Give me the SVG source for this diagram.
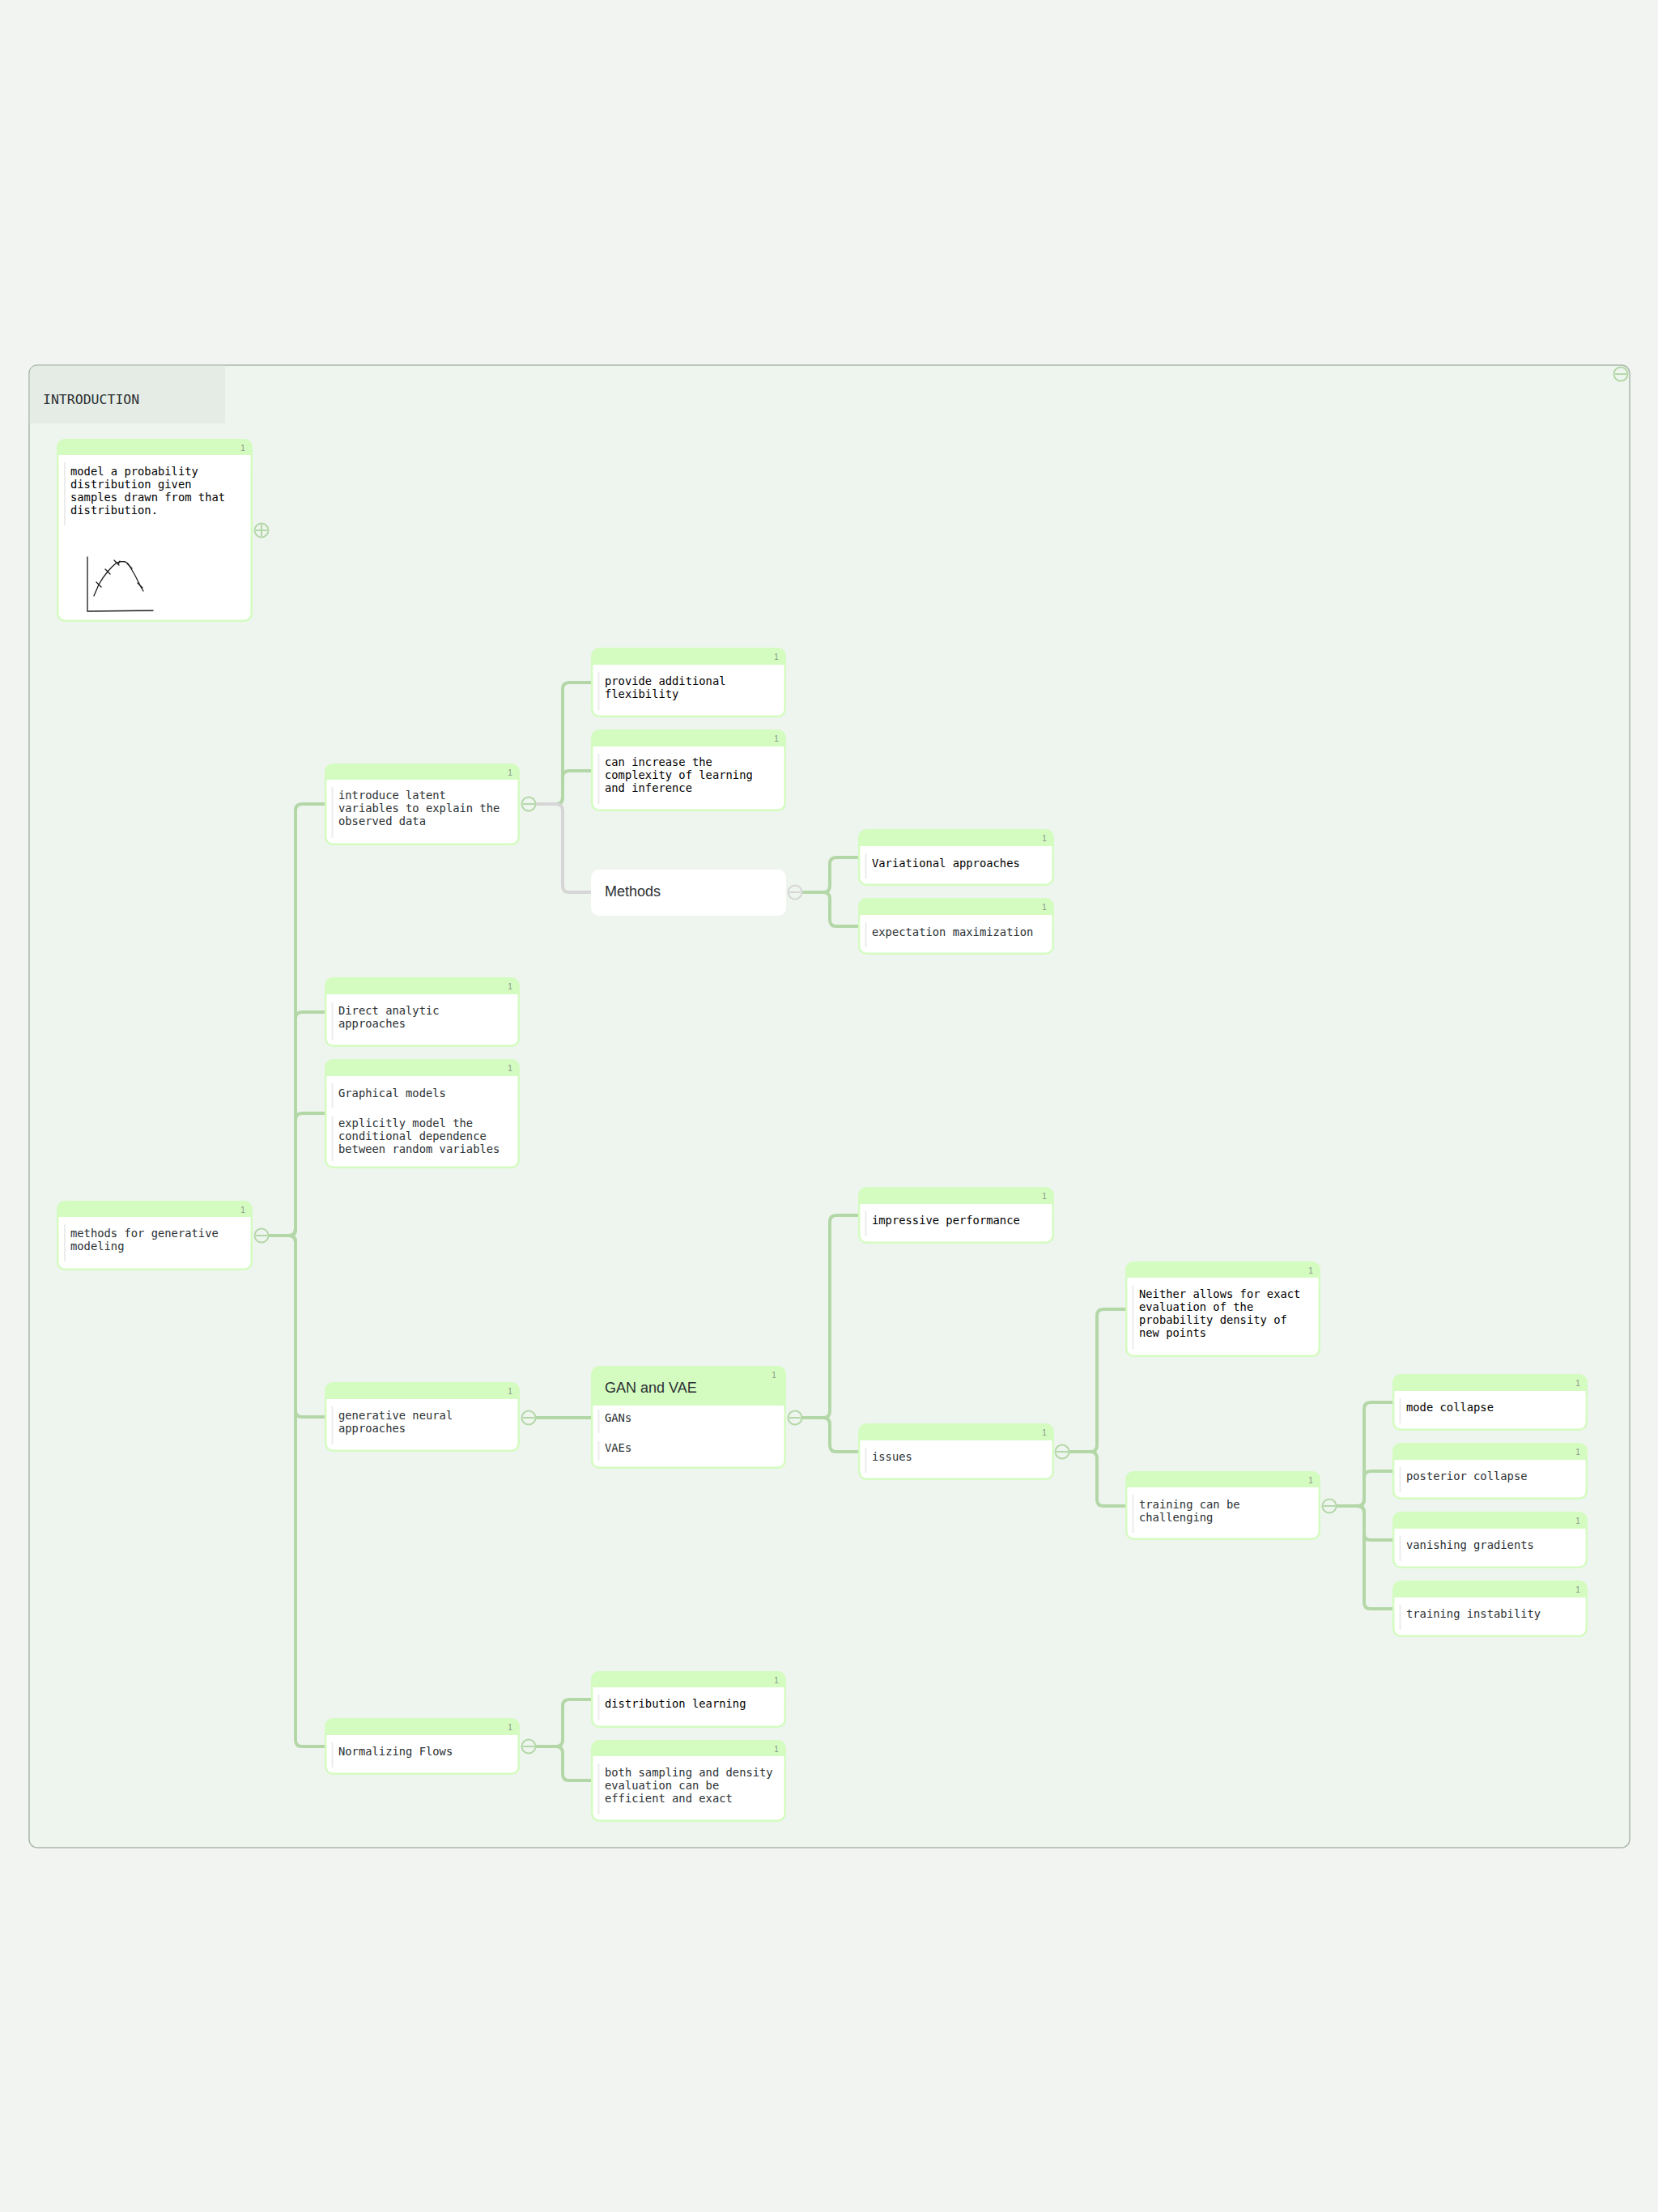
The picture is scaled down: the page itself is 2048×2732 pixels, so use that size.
<svg xmlns="http://www.w3.org/2000/svg" width="2048" height="2732" viewBox="0 0 2048 2732">
<style>
.nb{fill:#d4fcc1;}
.bd{fill:#ffffff;}
.bar{stroke:#ececec;stroke-width:2;}
.t{font-family:"DejaVu Sans Mono","Liberation Mono",monospace;font-size:13.8px;fill:#2b3033;}
.k{fill:#000000;}
.s{font-family:"Liberation Sans",Arial,sans-serif;font-size:18px;fill:#2b3033;}
.n1{font-family:"Liberation Sans",Arial,sans-serif;font-size:10px;fill:#8a968a;text-anchor:middle;}
.c{fill:none;stroke:#b4d7a8;stroke-width:4;stroke-linejoin:round;}
.cg{fill:none;stroke:#d6d6d6;stroke-width:4;}
.tg{fill:#eef5ee;stroke:#b4d7a8;stroke-width:2;}
.tgg{fill:#eef5ee;stroke:#d6d6d6;stroke-width:2;}
.tl{stroke:#b4d7a8;stroke-width:2;}
.tlg{stroke:#d6d6d6;stroke-width:2;}
</style>
<rect x="0" y="0" width="2048" height="2732" fill="#f2f4f2"/>
<g id="frame">
<rect x="36" y="451" width="1977" height="1831" rx="10" fill="#eef5ee" stroke="#a9b8a9" stroke-width="1.5"/>
<path d="M36.8,523 V461 Q36.8,451.8 46,451.8 H278 V523 Z" fill="#e5ece5"/>
<text x="53" y="499" font-family="DejaVu Sans Mono,Liberation Mono,monospace" font-size="16.5" fill="#2b3033">INTRODUCTION</text>
<circle cx="2002" cy="462" r="8.5" class="tg"/><line x1="1995" y1="462" x2="2009" y2="462" class="tl"/>
</g>
<g id="connectors">
<path class="c" d="M331,1526 H357 Q365,1526 365,1518 V1001 Q365,993 373,993 H401"/>
<path class="c" d="M331,1526 H357 Q365,1526 365,1518 V1258 Q365,1250 373,1250 H401"/>
<path class="c" d="M331,1526 H357 Q365,1526 365,1518 V1383 Q365,1375 373,1375 H401"/>
<path class="c" d="M331,1526 H357 Q365,1526 365,1534 V1742 Q365,1750 373,1750 H401"/>
<path class="c" d="M331,1526 H357 Q365,1526 365,1534 V2149 Q365,2157 373,2157 H401"/>
<path class="c" d="M661,993 H687 Q695,993 695,985 V851 Q695,843 703,843 H730"/>
<path class="c" d="M661,993 H687 Q695,993 695,985 V960 Q695,952 703,952 H730"/>
<path class="cg" d="M661,993 H687 Q695,993 695,1001 V1094 Q695,1102 703,1102 H730"/>
<path class="c" d="M990,1102 H1017 Q1025,1102 1025,1094 V1067 Q1025,1059 1033,1059 H1060"/>
<path class="c" d="M990,1102 H1017 Q1025,1102 1025,1110 V1136 Q1025,1144 1033,1144 H1060"/>
<path class="c" d="M661,1751 H730"/>
<path class="c" d="M990,1751 H1017 Q1025,1751 1025,1743 V1509 Q1025,1501 1033,1501 H1060"/>
<path class="c" d="M990,1751 H1017 Q1025,1751 1025,1759 V1785 Q1025,1793 1033,1793 H1060"/>
<path class="c" d="M1320,1793 H1347 Q1355,1793 1355,1785 V1625 Q1355,1617 1363,1617 H1390"/>
<path class="c" d="M1320,1793 H1347 Q1355,1793 1355,1801 V1852 Q1355,1860 1363,1860 H1390"/>
<path class="c" d="M1650,1860 H1677 Q1685,1860 1685,1852 V1740 Q1685,1732 1693,1732 H1720"/>
<path class="c" d="M1650,1860 H1677 Q1685,1860 1685,1852 V1825 Q1685,1817 1693,1817 H1720"/>
<path class="c" d="M1650,1860 H1677 Q1685,1860 1685,1868 V1894 Q1685,1902 1693,1902 H1720"/>
<path class="c" d="M1650,1860 H1677 Q1685,1860 1685,1868 V1979 Q1685,1987 1693,1987 H1720"/>
<path class="c" d="M661,2157 H687 Q695,2157 695,2149 V2107 Q695,2099 703,2099 H730"/>
<path class="c" d="M661,2157 H687 Q695,2157 695,2165 V2191 Q695,2199 703,2199 H730"/>
</g>
<g id="n-model">
<rect class="nb" x="70" y="542" width="242" height="226" rx="10"/>
<rect class="bd" x="72.5" y="562" width="237" height="203.5" rx="8"/><rect class="bd" x="72.5" y="562" width="237" height="12"/>
<text class="n1" x="300" y="557">1</text>
<line class="bar" x1="80" y1="571" x2="80" y2="649"/>
<text class="t k" x="87" y="587">model a probability</text>
<text class="t k" x="87" y="603">distribution given</text>
<text class="t k" x="87" y="619">samples drawn from that</text>
<text class="t k" x="87" y="635">distribution.</text>
<g fill="none" stroke="#1a1a1a" stroke-width="1.3" stroke-linecap="round">
<path d="M108,688 V755 L189,754"/>
<path d="M116,736 Q119,729 122,722 Q127,713 133,706 Q138,700 144,695 Q150,693 155,694 Q158,695 160,699 Q167,710 173,723 L177,730"/>
<path d="M119,719 L125,725 M130,703 L136,709 M141,692 L147,698 M157,696 L163,702 M170,720 L176,726 M148,693 L146,697"/>
</g>
<circle cx="323" cy="655" r="8.5" class="tg"/><line x1="316" y1="655" x2="330" y2="655" class="tl"/><line x1="323" y1="648" x2="323" y2="662" class="tl"/>
</g>
<g id="n-methods-gen">
<rect class="nb" x="70" y="1483" width="242" height="86" rx="10"/>
<rect class="bd" x="72.5" y="1503" width="237" height="63.5" rx="8"/><rect class="bd" x="72.5" y="1503" width="237" height="12"/>
<text class="n1" x="300" y="1498">1</text>
<line class="bar" x1="80" y1="1512" x2="80" y2="1558"/>
<text class="t" x="87" y="1528">methods for generative</text>
<text class="t" x="87" y="1544">modeling</text>
<circle cx="323" cy="1526" r="8.5" class="tg"/><line x1="316" y1="1526" x2="330" y2="1526" class="tl"/>
</g>
<g id="n-introduce">
<rect class="nb" x="401" y="943" width="241" height="101" rx="10"/>
<rect class="bd" x="403.5" y="963" width="236" height="78.5" rx="8"/><rect class="bd" x="403.5" y="963" width="236" height="12"/>
<text class="n1" x="630" y="958">1</text>
<line class="bar" x1="410.5" y1="972" x2="410.5" y2="1035"/>
<text class="t" x="418" y="987">introduce latent</text>
<text class="t" x="418" y="1003">variables to explain the</text>
<text class="t" x="418" y="1019">observed data</text>
<circle cx="653" cy="993" r="8.5" class="tg"/><line x1="646" y1="993" x2="660" y2="993" class="tl"/>
</g>
<g id="n-provide">
<rect class="nb" x="730" y="800" width="241" height="86" rx="10"/>
<rect class="bd" x="732.5" y="821" width="236" height="62.5" rx="8"/><rect class="bd" x="732.5" y="821" width="236" height="12"/>
<text class="n1" x="959" y="815">1</text>
<line class="bar" x1="739.5" y1="830" x2="739.5" y2="877"/>
<text class="t k" x="747" y="846">provide additional</text>
<text class="t k" x="747" y="862">flexibility</text>
</g>
<g id="n-increase">
<rect class="nb" x="730" y="901" width="241" height="101" rx="10"/>
<rect class="bd" x="732.5" y="922" width="236" height="77.5" rx="8"/><rect class="bd" x="732.5" y="922" width="236" height="12"/>
<text class="n1" x="959" y="916">1</text>
<line class="bar" x1="739.5" y1="931" x2="739.5" y2="993"/>
<text class="t k" x="747" y="946">can increase the</text>
<text class="t k" x="747" y="962">complexity of learning</text>
<text class="t k" x="747" y="978">and inference</text>
</g>
<g id="n-methods">
<rect x="730" y="1074" width="241" height="57" rx="10" fill="#ffffff"/>
<text class="s" x="747" y="1107">Methods</text>
<circle cx="982" cy="1102" r="8.5" class="tgg"/><line x1="975" y1="1102" x2="989" y2="1102" class="tlg"/>
</g>
<g id="n-variational">
<rect class="nb" x="1060" y="1024" width="242" height="70" rx="10"/>
<rect class="bd" x="1062.5" y="1045" width="237" height="46.5" rx="8"/><rect class="bd" x="1062.5" y="1045" width="237" height="12"/>
<text class="n1" x="1290" y="1039">1</text>
<line class="bar" x1="1069.5" y1="1054" x2="1069.5" y2="1085"/>
<text class="t k" x="1077" y="1071">Variational approaches</text>
</g>
<g id="n-expectation">
<rect class="nb" x="1060" y="1109" width="242" height="70" rx="10"/>
<rect class="bd" x="1062.5" y="1130" width="237" height="46.5" rx="8"/><rect class="bd" x="1062.5" y="1130" width="237" height="12"/>
<text class="n1" x="1290" y="1124">1</text>
<line class="bar" x1="1069.5" y1="1139" x2="1069.5" y2="1170"/>
<text class="t" x="1077" y="1156">expectation maximization</text>
</g>
<g id="n-direct">
<rect class="nb" x="401" y="1207" width="241" height="86" rx="10"/>
<rect class="bd" x="403.5" y="1228" width="236" height="62.5" rx="8"/><rect class="bd" x="403.5" y="1228" width="236" height="12"/>
<text class="n1" x="630" y="1222">1</text>
<line class="bar" x1="410.5" y1="1238" x2="410.5" y2="1284"/>
<text class="t" x="418" y="1253">Direct analytic</text>
<text class="t" x="418" y="1269">approaches</text>
</g>
<g id="n-graphical">
<rect class="nb" x="401" y="1308" width="241" height="135" rx="10"/>
<rect class="bd" x="403.5" y="1329" width="236" height="111.5" rx="8"/><rect class="bd" x="403.5" y="1329" width="236" height="12"/>
<text class="n1" x="630" y="1323">1</text>
<line class="bar" x1="410.5" y1="1338" x2="410.5" y2="1368"/>
<line class="bar" x1="410.5" y1="1379" x2="410.5" y2="1434"/>
<text class="t" x="418" y="1355">Graphical models</text>
<text class="t" x="418" y="1392">explicitly model the</text>
<text class="t" x="418" y="1408">conditional dependence</text>
<text class="t" x="418" y="1424">between random variables</text>
</g>
<g id="n-neural">
<rect class="nb" x="401" y="1707" width="241" height="86" rx="10"/>
<rect class="bd" x="403.5" y="1728" width="236" height="62.5" rx="8"/><rect class="bd" x="403.5" y="1728" width="236" height="12"/>
<text class="n1" x="630" y="1722">1</text>
<line class="bar" x1="410.5" y1="1737" x2="410.5" y2="1784"/>
<text class="t" x="418" y="1753">generative neural</text>
<text class="t" x="418" y="1769">approaches</text>
<circle cx="653" cy="1751" r="8.5" class="tg"/><line x1="646" y1="1751" x2="660" y2="1751" class="tl"/>
</g>
<g id="n-gan">
<rect class="nb" x="730" y="1687" width="241" height="127" rx="10"/>
<rect class="bd" x="732.5" y="1736" width="236" height="75.5" rx="8"/><rect class="bd" x="732.5" y="1736" width="236" height="12"/>
<text class="n1" x="956" y="1702">1</text>
<text class="s" x="747" y="1720">GAN and VAE</text>
<line class="bar" x1="739.5" y1="1741" x2="739.5" y2="1770"/>
<line class="bar" x1="739.5" y1="1780" x2="739.5" y2="1804"/>
<text class="t" x="747" y="1756">GANs</text>
<text class="t" x="747" y="1793">VAEs</text>
<circle cx="982" cy="1751" r="8.5" class="tg"/><line x1="975" y1="1751" x2="989" y2="1751" class="tl"/>
</g>
<g id="n-impressive">
<rect class="nb" x="1060" y="1466" width="242" height="70" rx="10"/>
<rect class="bd" x="1062.5" y="1487" width="237" height="46.5" rx="8"/><rect class="bd" x="1062.5" y="1487" width="237" height="12"/>
<text class="n1" x="1290" y="1481">1</text>
<line class="bar" x1="1069.5" y1="1496" x2="1069.5" y2="1527"/>
<text class="t k" x="1077" y="1512">impressive performance</text>
</g>
<g id="n-issues">
<rect class="nb" x="1060" y="1758" width="242" height="70" rx="10"/>
<rect class="bd" x="1062.5" y="1779" width="237" height="46.5" rx="8"/><rect class="bd" x="1062.5" y="1779" width="237" height="12"/>
<text class="n1" x="1290" y="1773">1</text>
<line class="bar" x1="1069.5" y1="1788" x2="1069.5" y2="1819"/>
<text class="t" x="1077" y="1804">issues</text>
<circle cx="1312" cy="1793" r="8.5" class="tg"/><line x1="1305" y1="1793" x2="1319" y2="1793" class="tl"/>
</g>
<g id="n-neither">
<rect class="nb" x="1390" y="1558" width="241" height="118" rx="10"/>
<rect class="bd" x="1392.5" y="1578" width="236" height="95.5" rx="8"/><rect class="bd" x="1392.5" y="1578" width="236" height="12"/>
<text class="n1" x="1619" y="1573">1</text>
<line class="bar" x1="1399.5" y1="1587" x2="1399.5" y2="1666"/>
<text class="t k" x="1407" y="1603">Neither allows for exact</text>
<text class="t k" x="1407" y="1619">evaluation of the</text>
<text class="t k" x="1407" y="1635">probability density of</text>
<text class="t k" x="1407" y="1651">new points</text>
</g>
<g id="n-training">
<rect class="nb" x="1390" y="1817" width="241" height="85" rx="10"/>
<rect class="bd" x="1392.5" y="1837" width="236" height="62.5" rx="8"/><rect class="bd" x="1392.5" y="1837" width="236" height="12"/>
<text class="n1" x="1619" y="1832">1</text>
<line class="bar" x1="1399.5" y1="1846" x2="1399.5" y2="1893"/>
<text class="t" x="1407" y="1863">training can be</text>
<text class="t" x="1407" y="1879">challenging</text>
<circle cx="1642" cy="1860" r="8.5" class="tg"/><line x1="1635" y1="1860" x2="1649" y2="1860" class="tl"/>
</g>
<g id="n-mode">
<rect class="nb" x="1720" y="1697" width="241" height="70" rx="10"/>
<rect class="bd" x="1722.5" y="1718" width="236" height="46.5" rx="8"/><rect class="bd" x="1722.5" y="1718" width="236" height="12"/>
<text class="n1" x="1949" y="1712">1</text>
<line class="bar" x1="1729.5" y1="1727" x2="1729.5" y2="1758"/>
<text class="t k" x="1737" y="1743">mode collapse</text>
</g>
<g id="n-posterior">
<rect class="nb" x="1720" y="1782" width="241" height="70" rx="10"/>
<rect class="bd" x="1722.5" y="1803" width="236" height="46.5" rx="8"/><rect class="bd" x="1722.5" y="1803" width="236" height="12"/>
<text class="n1" x="1949" y="1797">1</text>
<line class="bar" x1="1729.5" y1="1812" x2="1729.5" y2="1843"/>
<text class="t" x="1737" y="1828">posterior collapse</text>
</g>
<g id="n-vanishing">
<rect class="nb" x="1720" y="1867" width="241" height="70" rx="10"/>
<rect class="bd" x="1722.5" y="1888" width="236" height="46.5" rx="8"/><rect class="bd" x="1722.5" y="1888" width="236" height="12"/>
<text class="n1" x="1949" y="1882">1</text>
<line class="bar" x1="1729.5" y1="1897" x2="1729.5" y2="1928"/>
<text class="t" x="1737" y="1913">vanishing gradients</text>
</g>
<g id="n-instability">
<rect class="nb" x="1720" y="1952" width="241" height="70" rx="10"/>
<rect class="bd" x="1722.5" y="1973" width="236" height="46.5" rx="8"/><rect class="bd" x="1722.5" y="1973" width="236" height="12"/>
<text class="n1" x="1949" y="1967">1</text>
<line class="bar" x1="1729.5" y1="1982" x2="1729.5" y2="2013"/>
<text class="t" x="1737" y="1998">training instability</text>
</g>
<g id="n-normalizing">
<rect class="nb" x="401" y="2122" width="241" height="70" rx="10"/>
<rect class="bd" x="403.5" y="2143" width="236" height="46.5" rx="8"/><rect class="bd" x="403.5" y="2143" width="236" height="12"/>
<text class="n1" x="630" y="2137">1</text>
<line class="bar" x1="410.5" y1="2152" x2="410.5" y2="2183"/>
<text class="t" x="418" y="2168">Normalizing Flows</text>
<circle cx="653" cy="2157" r="8.5" class="tg"/><line x1="646" y1="2157" x2="660" y2="2157" class="tl"/>
</g>
<g id="n-distribution">
<rect class="nb" x="730" y="2064" width="241" height="70" rx="10"/>
<rect class="bd" x="732.5" y="2084" width="236" height="47.5" rx="8"/><rect class="bd" x="732.5" y="2084" width="236" height="12"/>
<text class="n1" x="959" y="2079">1</text>
<line class="bar" x1="739.5" y1="2093" x2="739.5" y2="2124"/>
<text class="t k" x="747" y="2109">distribution learning</text>
</g>
<g id="n-both">
<rect class="nb" x="730" y="2149" width="241" height="101" rx="10"/>
<rect class="bd" x="732.5" y="2169" width="236" height="78.5" rx="8"/><rect class="bd" x="732.5" y="2169" width="236" height="12"/>
<text class="n1" x="959" y="2164">1</text>
<line class="bar" x1="739.5" y1="2178" x2="739.5" y2="2241"/>
<text class="t" x="747" y="2194">both sampling and density</text>
<text class="t" x="747" y="2210">evaluation can be</text>
<text class="t" x="747" y="2226">efficient and exact</text>
</g>
</svg>
